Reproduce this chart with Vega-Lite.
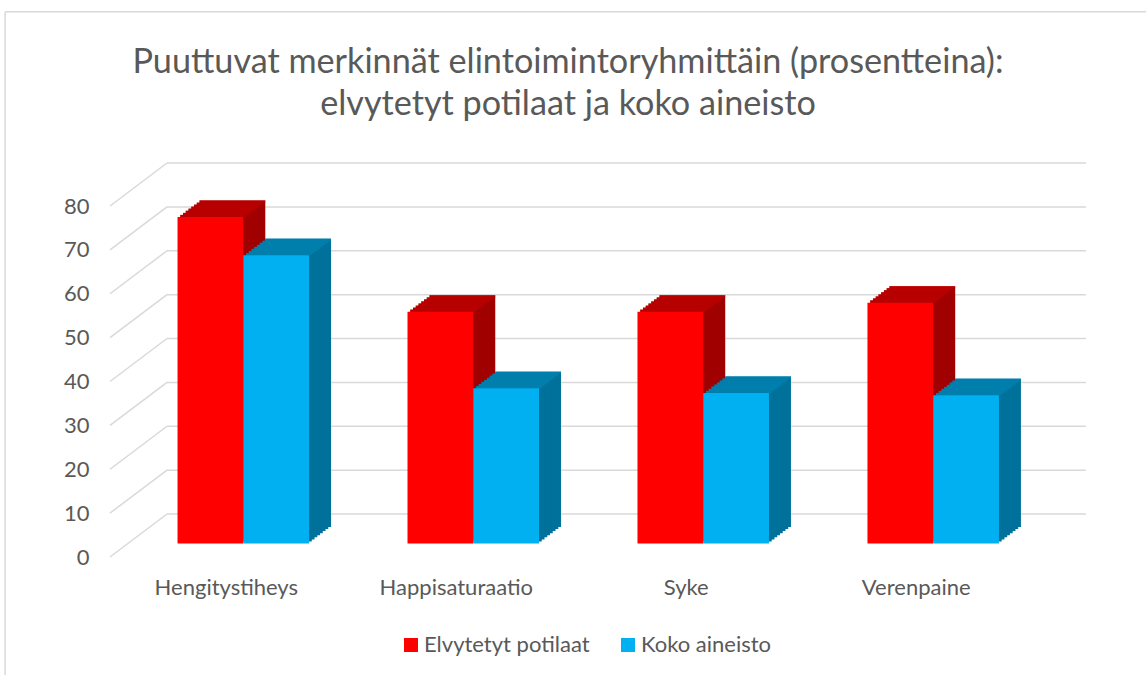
{"$schema":"https://vega.github.io/schema/vega-lite/v6.json","width":976,"height":351,"autosize":{"type":"none"},"padding":{"left":110,"top":206,"right":60,"bottom":118},"background":"white","config":{"view":{"stroke":null},"font":"Lato"},
"title":{"text":["Puuttuvat merkinnät elintoimintoryhmittäin (prosentteina):","elvytetyt potilaat ja koko aineisto"],"fontSize":34.2,"fontWeight":"normal","color":"#595959","font":"Lato","anchor":"middle","frame":"group","dx":-30,"offset":-111,"lineHeight":42},
"datasets":{"bars":[{"cat":"Hengitystiheys","series":"Elvytetyt potilaat","value":74.4},{"cat":"Hengitystiheys","series":"Koko aineisto","value":65.7},{"cat":"Happisaturaatio","series":"Elvytetyt potilaat","value":52.8},{"cat":"Happisaturaatio","series":"Koko aineisto","value":35.4},{"cat":"Syke","series":"Elvytetyt potilaat","value":52.8},{"cat":"Syke","series":"Koko aineisto","value":34.3},{"cat":"Verenpaine","series":"Elvytetyt potilaat","value":54.9},{"cat":"Verenpaine","series":"Koko aineisto","value":33.8}],"ticks":[{"tick":0},{"tick":10},{"tick":20},{"tick":30},{"tick":40},{"tick":50},{"tick":60},{"tick":70},{"tick":80}]},
"resolve":{"scale":{"x":"independent"},"axis":{"x":"independent"}},
"layer":[
{"data":{"name":"ticks"},"layer":[
{"mark":{"type":"rule","color":"#d9d9d9","strokeWidth":1.5,"y2Offset":-43},"encoding":{"x":{"datum":0,"type":"quantitative","scale":{"domain":[0,17.12]},"axis":null},"x2":{"datum":1},"y":{"field":"tick","type":"quantitative","scale":{"domain":[0,80]},"axis":{"values":[0,10,20,30,40,50,60,70,80],"title":null,"domain":false,"ticks":false,"grid":false,"labelFontSize":22,"labelColor":"#595959","labelPadding":21,"labelFont":"Lato"}},"y2":{"field":"tick"}}},
{"mark":{"type":"rule","color":"#d9d9d9","strokeWidth":1.5,"yOffset":-43,"y2Offset":-43},"encoding":{"x":{"datum":1,"type":"quantitative","scale":{"domain":[0,17.12]},"axis":null},"x2":{"datum":17.12},"y":{"field":"tick","type":"quantitative"},"y2":{"field":"tick"}}},
{"data":{"values":[{"edge":"top"}]},"mark":{"type":"rule","color":"#d9d9d9","strokeWidth":1.5},"encoding":{"x":{"datum":-1.84,"type":"quantitative","scale":{"domain":[0,17.12]},"axis":null},"x2":{"datum":18.5},"y":{"datum":124.3,"type":"quantitative"}}},
{"data":{"values":[{"edge":"left"}]},"mark":{"type":"rule","color":"#d9d9d9","strokeWidth":1.5},"encoding":{"x":{"datum":-1.84,"type":"quantitative","scale":{"domain":[0,17.12]},"axis":null},"y":{"datum":124.3,"type":"quantitative"},"y2":{"datum":-27}}}
]},
{"data":{"name":"bars"},
"resolve":{"scale":{"xOffset":"independent"}},
"encoding":{"x":{"field":"cat","type":"nominal","sort":null,"scale":{"paddingInner":0.428,"paddingOuter":0.336,"align":0.437},"axis":{"title":null,"domain":false,"ticks":false,"labelAngle":0,"labelFontSize":22,"labelColor":"#595959","labelPadding":20,"labelOffset":-17,"labelFont":"Lato"}},"y":{"field":"value","type":"quantitative"}},
"layer":[
{"mark":{"type":"bar","yOffset":-30,"y2Offset":-30},"encoding":{"y2":{"datum":0},"xOffset":{"field":"series","type":"nominal","sort":null,"scale":{"range":[22,153.5]}},"color":{"condition":{"test":"datum.series==='Koko aineisto'","value":"#00719b"},"value":"#a00000"}}},
{"mark":{"type":"bar","yOffset":-27.9,"y2Offset":-27.9},"encoding":{"y2":{"datum":0},"xOffset":{"field":"series","type":"nominal","sort":null,"scale":{"range":[19.25,150.75]}},"color":{"condition":{"test":"datum.series==='Koko aineisto'","value":"#00719b"},"value":"#a00000"}}},
{"mark":{"type":"bar","yOffset":-25.9,"y2Offset":-25.9},"encoding":{"y2":{"datum":0},"xOffset":{"field":"series","type":"nominal","sort":null,"scale":{"range":[16.5,148]}},"color":{"condition":{"test":"datum.series==='Koko aineisto'","value":"#00719b"},"value":"#a00000"}}},
{"mark":{"type":"bar","yOffset":-23.8,"y2Offset":-23.8},"encoding":{"y2":{"datum":0},"xOffset":{"field":"series","type":"nominal","sort":null,"scale":{"range":[13.75,145.25]}},"color":{"condition":{"test":"datum.series==='Koko aineisto'","value":"#00719b"},"value":"#a00000"}}},
{"mark":{"type":"bar","yOffset":-21.75,"y2Offset":-21.75},"encoding":{"y2":{"datum":0},"xOffset":{"field":"series","type":"nominal","sort":null,"scale":{"range":[11,142.5]}},"color":{"condition":{"test":"datum.series==='Koko aineisto'","value":"#00719b"},"value":"#a00000"}}},
{"mark":{"type":"bar","yOffset":-19.7,"y2Offset":-19.7},"encoding":{"y2":{"datum":0},"xOffset":{"field":"series","type":"nominal","sort":null,"scale":{"range":[8.25,139.75]}},"color":{"condition":{"test":"datum.series==='Koko aineisto'","value":"#00719b"},"value":"#a00000"}}},
{"mark":{"type":"bar","yOffset":-17.6,"y2Offset":-17.6},"encoding":{"y2":{"datum":0},"xOffset":{"field":"series","type":"nominal","sort":null,"scale":{"range":[5.5,137]}},"color":{"condition":{"test":"datum.series==='Koko aineisto'","value":"#00719b"},"value":"#a00000"}}},
{"mark":{"type":"bar","yOffset":-15.6,"y2Offset":-15.6},"encoding":{"y2":{"datum":0},"xOffset":{"field":"series","type":"nominal","sort":null,"scale":{"range":[2.75,134.25]}},"color":{"condition":{"test":"datum.series==='Koko aineisto'","value":"#00719b"},"value":"#a00000"}}},
{"mark":{"type":"tick","orient":"horizontal","thickness":2.4,"bandSize":65.75,"yOffset":-29},"encoding":{"xOffset":{"field":"series","type":"nominal","sort":null,"scale":{"range":[22,153.5]}},"color":{"condition":{"test":"datum.series==='Koko aineisto'","value":"#0084b4"},"value":"#c00000"}}},
{"mark":{"type":"tick","orient":"horizontal","thickness":2.4,"bandSize":65.75,"yOffset":-26.9},"encoding":{"xOffset":{"field":"series","type":"nominal","sort":null,"scale":{"range":[19.25,150.75]}},"color":{"condition":{"test":"datum.series==='Koko aineisto'","value":"#0084b4"},"value":"#c00000"}}},
{"mark":{"type":"tick","orient":"horizontal","thickness":2.4,"bandSize":65.75,"yOffset":-24.9},"encoding":{"xOffset":{"field":"series","type":"nominal","sort":null,"scale":{"range":[16.5,148]}},"color":{"condition":{"test":"datum.series==='Koko aineisto'","value":"#0084b4"},"value":"#c00000"}}},
{"mark":{"type":"tick","orient":"horizontal","thickness":2.4,"bandSize":65.75,"yOffset":-22.8},"encoding":{"xOffset":{"field":"series","type":"nominal","sort":null,"scale":{"range":[13.75,145.25]}},"color":{"condition":{"test":"datum.series==='Koko aineisto'","value":"#0084b4"},"value":"#c00000"}}},
{"mark":{"type":"tick","orient":"horizontal","thickness":2.4,"bandSize":65.75,"yOffset":-20.75},"encoding":{"xOffset":{"field":"series","type":"nominal","sort":null,"scale":{"range":[11,142.5]}},"color":{"condition":{"test":"datum.series==='Koko aineisto'","value":"#0084b4"},"value":"#c00000"}}},
{"mark":{"type":"tick","orient":"horizontal","thickness":2.4,"bandSize":65.75,"yOffset":-18.7},"encoding":{"xOffset":{"field":"series","type":"nominal","sort":null,"scale":{"range":[8.25,139.75]}},"color":{"condition":{"test":"datum.series==='Koko aineisto'","value":"#0084b4"},"value":"#c00000"}}},
{"mark":{"type":"tick","orient":"horizontal","thickness":2.4,"bandSize":65.75,"yOffset":-16.6},"encoding":{"xOffset":{"field":"series","type":"nominal","sort":null,"scale":{"range":[5.5,137]}},"color":{"condition":{"test":"datum.series==='Koko aineisto'","value":"#0084b4"},"value":"#c00000"}}},
{"mark":{"type":"tick","orient":"horizontal","thickness":2.4,"bandSize":65.75,"yOffset":-14.6},"encoding":{"xOffset":{"field":"series","type":"nominal","sort":null,"scale":{"range":[2.75,134.25]}},"color":{"condition":{"test":"datum.series==='Koko aineisto'","value":"#0084b4"},"value":"#c00000"}}},
{"mark":{"type":"bar","yOffset":-13.5,"y2Offset":-13.5},"encoding":{"y2":{"datum":0},"xOffset":{"field":"series","type":"nominal","sort":null,"scale":{"range":[0,131.5]}},"color":{"field":"series","type":"nominal","sort":null,"scale":{"domain":["Elvytetyt potilaat","Koko aineisto"],"range":["#ff0000","#00b0f0"]},"legend":{"title":null,"orient":"none","legendX":290,"legendY":428,"direction":"horizontal","symbolType":"square","symbolSize":196,"labelFontSize":22,"labelColor":"#595959","labelFont":"Lato","symbolStrokeWidth":0,"labelOffset":2,"columnPadding":27,"labelLimit":400}}}}
]}
]}
